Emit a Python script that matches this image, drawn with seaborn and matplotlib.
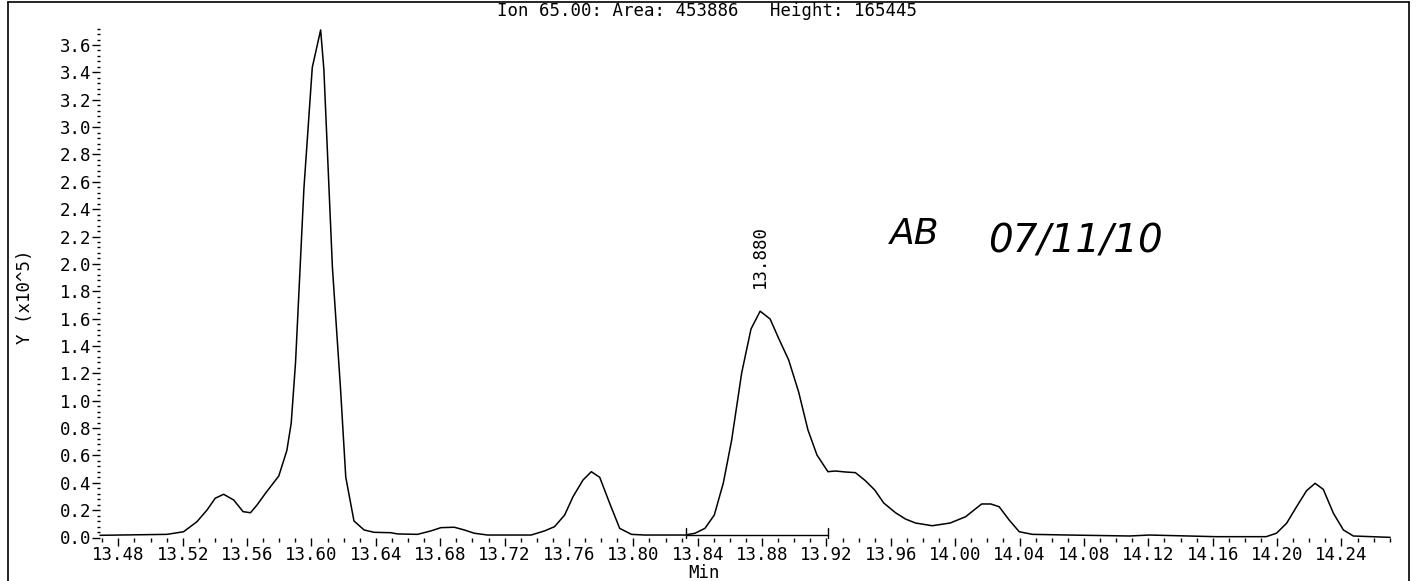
import matplotlib
matplotlib.use("Agg")
import matplotlib.pyplot as plt
from matplotlib.ticker import MultipleLocator, FixedLocator, FormatStrFormatter
from matplotlib.lines import Line2D
import seaborn as sns
import pandas as pd

# Extracted ion chromatogram, ion 65.00 (time in minutes, abundance in units of 1e5)
times = [13.4686, 13.5102, 13.5205, 13.5288, 13.5351, 13.5402, 13.5454, 13.5517,
         13.5575, 13.5621, 13.5662, 13.5714, 13.5797, 13.5847, 13.5874, 13.5901,
         13.5953, 13.6005, 13.6057, 13.6077, 13.6130, 13.6181, 13.6213, 13.6264,
         13.6327, 13.6389, 13.6493, 13.6535, 13.6659, 13.6742, 13.6804, 13.6887,
         13.6950, 13.7012, 13.7095, 13.7365, 13.7448, 13.7510, 13.7573, 13.7625,
         13.7687, 13.7739, 13.7791, 13.7853, 13.7915, 13.7988, 13.8071, 13.8320,
         13.8383, 13.8445, 13.8503, 13.8559, 13.8611, 13.8673, 13.8731, 13.8788,
         13.8850, 13.8902, 13.8965, 13.9027, 13.9085, 13.9141, 13.9209, 13.9255,
         13.9317, 13.9380, 13.9442, 13.9500, 13.9556, 13.9629, 13.9691, 13.9753,
         13.9857, 13.9969, 14.0065, 14.0117, 14.0164, 14.0221, 14.0273, 14.0335,
         14.0398, 14.0480, 14.0709, 14.1083, 14.1207, 14.1621, 14.1932, 14.1996,
         14.2059, 14.2121, 14.2183, 14.2236, 14.2287, 14.2350, 14.2412, 14.2474,
         14.2703]
abundance = [0.016, 0.023, 0.042, 0.115, 0.201, 0.287, 0.316, 0.274,
             0.189, 0.181, 0.238, 0.323, 0.450, 0.636, 0.835, 1.279,
             2.550, 3.436, 3.710, 3.423, 1.977, 1.078, 0.442, 0.121,
             0.055, 0.038, 0.035, 0.026, 0.023, 0.048, 0.072, 0.075,
             0.055, 0.031, 0.018, 0.018, 0.048, 0.079, 0.164, 0.298,
             0.420, 0.481, 0.440, 0.250, 0.067, 0.023, 0.018, 0.018,
             0.031, 0.067, 0.164, 0.398, 0.713, 1.202, 1.524, 1.65445,
             1.597, 1.458, 1.298, 1.064, 0.786, 0.603, 0.481, 0.486,
             0.479, 0.474, 0.415, 0.347, 0.252, 0.181, 0.135, 0.106,
             0.086, 0.106, 0.152, 0.201, 0.245, 0.245, 0.225, 0.128,
             0.042, 0.023, 0.018, 0.011, 0.018, 0.006, 0.006, 0.031,
             0.104, 0.225, 0.342, 0.396, 0.352, 0.177, 0.055, 0.011,
             0.001]

# Integrated peak
peak_rt = 13.8788
peak_height = 1.65445
peak_label = "13.880"
baseline_start, baseline_end = 13.8327, 13.9209
baseline_level = 0.018
baseline_mark_top = 0.07

title_text = "Ion 65.00: Area: 453886   Height: 165445"
x_label = "Min"
y_label = "Y (x10^5)"
x_ticks = [13.48, 13.52, 13.56, 13.60, 13.64, 13.68, 13.72, 13.76, 13.80, 13.84,
           13.88, 13.92, 13.96, 14.00, 14.04, 14.08, 14.12, 14.16, 14.20, 14.24]
y_ticks = [0.0, 0.2, 0.4, 0.6, 0.8, 1.0, 1.2, 1.4, 1.6, 1.8,
           2.0, 2.2, 2.4, 2.6, 2.8, 3.0, 3.2, 3.4, 3.6]
initials = "AB"
sign_date = "07/11/10"

sns.set_theme(style="white")
plt.rcParams["font.family"] = ["DejaVu Sans Mono", "DejaVu Sans"]

W, H = 1418, 581
fig = plt.figure(figsize=(W / 100, H / 100), dpi=100)
fig.patch.set_facecolor("white")

ax_left, ax_right = 100 / W, 1392 / W
ax_bottom, ax_top = (H - 537.5) / H, (H - 24.5) / H
ax = fig.add_axes([ax_left, ax_bottom, ax_right - ax_left, ax_top - ax_bottom])
ax.set_facecolor("white")

df = pd.DataFrame({"time": times, "abundance": abundance})
sns.lineplot(data=df, x="time", y="abundance", ax=ax, color="black",
             linewidth=1.1, sort=False, estimator=None)
for line in ax.lines:
    line.set_clip_on(False)

# integration baseline with end marks
ax.plot([baseline_start, baseline_end], [baseline_level, baseline_level],
        color="black", lw=1.0, clip_on=False)
ax.plot([baseline_start, baseline_start], [0.0, baseline_mark_top],
        color="black", lw=1.0, clip_on=False)
ax.plot([baseline_end, baseline_end], [0.0, baseline_mark_top],
        color="black", lw=1.0, clip_on=False)

ax.set_xlim(13.4686, 14.2714)
ax.set_ylim(0, 3.75)

for s in ax.spines.values():
    s.set_visible(False)

fs = 12.5
ax.xaxis.set_major_locator(FixedLocator(x_ticks))
ax.xaxis.set_minor_locator(MultipleLocator(0.01))
ax.xaxis.set_major_formatter(FormatStrFormatter("%.2f"))
ax.yaxis.set_major_locator(FixedLocator(y_ticks))
ax.yaxis.set_minor_locator(MultipleLocator(0.04))
ax.yaxis.set_major_formatter(FormatStrFormatter("%.1f"))

ax.tick_params(axis="x", which="major", direction="out", length=6, width=1,
               color="black", labelsize=fs, pad=0, bottom=True)
ax.tick_params(axis="x", which="minor", direction="out", length=3, width=1,
               color="black", bottom=True)
ax.tick_params(axis="y", which="major", direction="out", length=6, width=1,
               color="black", labelsize=fs, pad=0, left=True)
ax.tick_params(axis="y", which="minor", direction="out", length=2, width=1,
               color="black", left=True)
for lab in ax.get_xticklabels() + ax.get_yticklabels():
    lab.set_color("black")

ax.set_xlabel("")
ax.set_ylabel("")
fig.text(704 / W, 1 - 573.5 / H, x_label, ha="center", va="center",
         fontsize=fs, color="black")
fig.text(25 / W, 1 - 297 / H, y_label, ha="center", va="center",
         rotation=90, fontsize=fs, color="black")
fig.text(707 / W, 1 - 11 / H, title_text, ha="center", va="center",
         fontsize=fs, color="black")

ax.annotate(peak_label, xy=(peak_rt, peak_height), xytext=(0, 17),
            textcoords="offset points", rotation=90, ha="center", va="bottom",
            fontsize=fs, color="black")

# handwritten initials and date
fig.text(915 / W, 1 - 234 / H, initials, ha="center", va="center",
         fontsize=26, fontstyle="italic", family="DejaVu Sans", color="black")
fig.text(1075 / W, 1 - 242 / H, sign_date, ha="center", va="center",
         fontsize=28, fontstyle="italic", family="DejaVu Sans", color="black")

# page frame
frame_kw = dict(color="black", lw=1.2, transform=fig.transFigure)
fig.add_artist(Line2D([8 / W, 8 / W], [0, 1 - 2 / H], **frame_kw))
fig.add_artist(Line2D([1409 / W, 1409 / W], [0, 1 - 2 / H], **frame_kw))
fig.add_artist(Line2D([8 / W, 1409 / W], [1 - 2 / H, 1 - 2 / H], **frame_kw))

fig.savefig("out.png", dpi=100, facecolor="white")
